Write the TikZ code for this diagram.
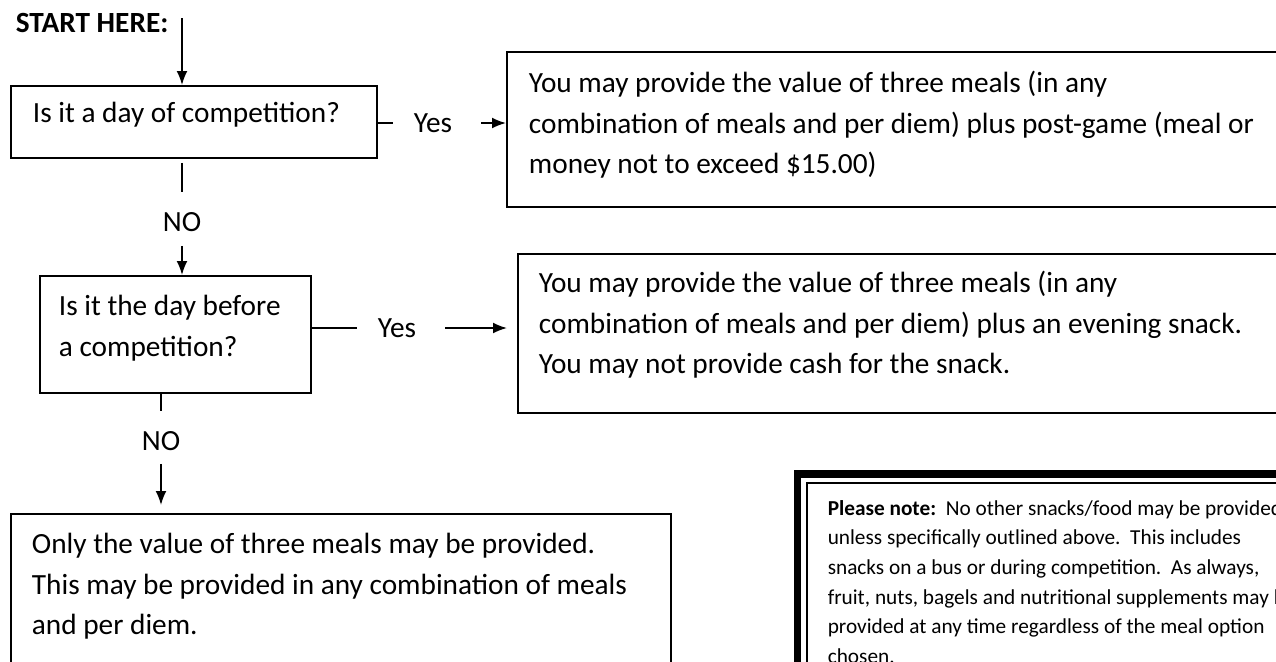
\documentclass[tikz,border=0pt]{standalone}
\usepackage{fontspec}
\setmainfont{Carlito}
\usetikzlibrary{arrows.meta}
\frenchspacing
\begin{document}
\begin{tikzpicture}[x=0.5pt, y=-0.5pt, line width=0.9pt,
		every node/.style={font=\fontsize{14.65}{20.25}\selectfont},
		box/.style={draw, line width=0.9pt, anchor=north west, align=flush left, inner ysep=0pt},
		tag/.style={inner sep=0pt, text depth=0pt},
		arr/.style={-{Latex[length=7pt, width=5.5pt]}}]
		\useasboundingbox (0,0) rectangle (1276,661);
		\clip (0,0) rectangle (1276,661);
		\node[anchor=base west, inner sep=0pt, font=\fontsize{14.65}{20.25}\selectfont\bfseries] (start) at (15,32.5) {START HERE:};
		\coordinate (top) at (182,18);
		\node[box, inner xsep=11pt, text width=161pt, text height=18.5pt, text depth=17.5pt] (q1) at (10,85) {Is it a day of competition?};
		\node[box, inner xsep=9.5pt, text width=116.5pt, text height=20pt, text depth=38.5pt] (q2) at (39,275) {Is it the day before\\a competition?};
		\node[box, inner xsep=11pt, text width=400pt, text height=20.5pt, text depth=57pt] (ansA) at (506,51) {You may provide the value of three meals (in any\\combination of meals and per diem) plus post-game (meal or\\money not to exceed \$15.00)};
		\node[box, inner xsep=10.5pt, text width=400pt, text height=19.5pt, text depth=60pt] (ansB) at (517,253) {You may provide the value of three meals (in any\\combination of meals and per diem) plus an evening snack.\\You may not provide cash for the snack.};
		\node[box, inner xsep=10.5pt, text width=309pt, text height=20pt, text depth=73.5pt] (ansC) at (10,513) {Only the value of three meals may be provided.\\This may be provided in any combination of meals\\and per diem.};
		\node[box, line width=0.75pt, inner xsep=10.5pt, text width=270pt, text height=16.25pt, text depth=110pt, font=\fontsize{10.65}{14.8}\selectfont] (note) at (806,482) {\textbf{Please note:}\ \ No other snacks/food may be provided\\unless specifically outlined above.\ \ This includes\\snacks on a bus or during competition.\ \ As always,\\fruit, nuts, bagels and nutritional supplements may be\\provided at any time regardless of the meal option\\chosen.};
		\draw[line width=3.75pt] ([shift={(-4.25pt,4pt)}]note.north west) rectangle ([shift={(4.25pt,-4pt)}]note.south east);
		\draw[arr] (top) -- (top |- q1.north);
		\node[tag] (no1) at (182,222) {NO};
		\draw[shorten <=2pt, shorten >=9.75pt] (no1 |- q1.south) -- (no1.north);
		\draw[arr, shorten <=6.75pt] (no1.south) -- (no1 |- q2.north);
		\node[tag, anchor=west] (yes1) at (413,123) {Yes};
		\draw[shorten >=10pt] (q1.east |- yes1) -- (yes1.west);
		\draw[arr, shorten <=14pt] (yes1.east) -- (ansA.west |- yes1);
		\node[tag, anchor=west] (yes2) at (377,328) {Yes};
		\draw[shorten >=10pt] (q2.east |- yes2) -- (yes2.west);
		\draw[arr, shorten <=14pt, shorten >=5pt] (yes2.east) -- (ansB.west |- yes2);
		\node[tag] (no2) at (161,441) {NO};
		\draw[shorten >=9.75pt] (no2 |- q2.south) -- (no2.north);
		\draw[arr, shorten <=6.25pt, shorten >=4pt] (no2.south) -- (no2 |- ansC.north);
	\end{tikzpicture}
\end{document}
